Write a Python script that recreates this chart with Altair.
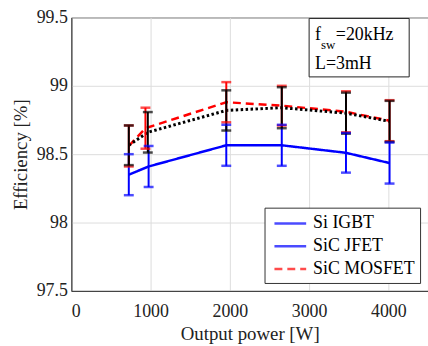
import altair as alt
import pandas as pd

power_si = [725, 975, 1955, 2655, 3465, 4015]
eff_si = [98.35, 98.41, 98.565, 98.565, 98.51, 98.435]
err_si = [0.15, 0.15, 0.15, 0.15, 0.145, 0.15]
power_mos = [725, 935, 1955, 2655, 3465, 4015]
eff_mos = [98.56, 98.69, 98.88, 98.855, 98.81, 98.745]
err_mos = [0.15, 0.15, 0.147, 0.145, 0.15, 0.15]
power_jfet = [725, 965, 1955, 2655, 3465, 4015]
eff_jfet = [98.565, 98.66, 98.82, 98.84, 98.80, 98.74]
err_jfet = [0.145, 0.148, 0.147, 0.15, 0.15, 0.15]
series_colors = {"Si IGBT": "#0000ff", "SiC MOSFET": "#ff0000", "SiC JFET": "#000000"}

rows = []
for name, px, ey, er in [("Si IGBT", power_si, eff_si, err_si),
                         ("SiC MOSFET", power_mos, eff_mos, err_mos),
                         ("SiC JFET", power_jfet, eff_jfet, err_jfet)]:
    for p, e, r in zip(px, ey, er):
        rows.append({"series": name, "power": p, "eff": e, "lo": e - r, "hi": e + r,
                     "ecolor": series_colors[name]})
df = pd.DataFrame(rows)

FONT = "Liberation Serif"
dom = ["Si IGBT", "SiC JFET", "SiC MOSFET"]
color_scale = alt.Scale(domain=dom, range=["#0000ff", "#0000ff", "#ff0000"])
dash_scale = alt.Scale(domain=dom, range=[[1, 0], [1, 0], [8, 5]])

xs = alt.X("power:Q", scale=alt.Scale(domain=[0, 4500], nice=False),
           axis=alt.Axis(values=[0, 1000, 2000, 3000, 4000], format="d",
                         title="Output power [W]", grid=True))
ys = alt.Y("eff:Q", scale=alt.Scale(domain=[97.5, 99.5], nice=False, zero=False),
           axis=alt.Axis(values=[97.5, 98, 98.5, 99, 99.5], format="~f",
                         title="Efficiency [%]", grid=True))

legend = alt.Legend(
    title=None, orient="none", legendX=195, legendY=192,
    symbolType="M-0.63,0H2.74", symbolSize=361, symbolStrokeWidth=2.5,
    labelFont=FONT, labelFontSize=18, labelColor="black", labelOffset=22,
    labelLimit=300, rowPadding=3, padding=5,
    strokeColor="#333333", fillColor="white",
)

base = alt.Chart(df)
lines_main = base.transform_filter(alt.datum.series != "SiC JFET").mark_line(strokeWidth=2.5).encode(
    x=xs, y=ys,
    color=alt.Color("series:N", scale=color_scale, legend=legend),
    strokeDash=alt.StrokeDash("series:N", scale=dash_scale, legend=legend),
)
line_jfet = base.transform_filter(alt.datum.series == "SiC JFET").mark_line(
    strokeWidth=3, color="#000000", strokeDash=[2.5, 2.5]).encode(x="power:Q", y="eff:Q")

rules = base.mark_rule(strokeWidth=2).encode(
    x="power:Q", y="lo:Q", y2="hi:Q",
    color=alt.Color("ecolor:N", scale=None),
)
cap_lo = base.mark_tick(orient="horizontal", size=10, thickness=2.5).encode(
    x="power:Q", y="lo:Q", color=alt.Color("ecolor:N", scale=None),
)
cap_hi = base.mark_tick(orient="horizontal", size=10, thickness=2.5).encode(
    x="power:Q", y="hi:Q", color=alt.Color("ecolor:N", scale=None),
)

one = pd.DataFrame({"a": [0]})
box = alt.Chart(one).mark_rect(fill="white", stroke="#222222", strokeWidth=1).encode(
    x=alt.value(240), x2=alt.value(341), y=alt.value(1), y2=alt.value(60))
t_f = alt.Chart(one).mark_text(font=FONT, fontSize=18, align="left", baseline="alphabetic",
                               color="black").encode(x=alt.value(246), y=alt.value(23), text=alt.value("f"))
t_sw = alt.Chart(one).mark_text(font=FONT, fontSize=13, align="left", baseline="alphabetic",
                                color="black").encode(x=alt.value(252), y=alt.value(32), text=alt.value("sw"))
t_fv = alt.Chart(one).mark_text(font=FONT, fontSize=18, align="left", baseline="alphabetic",
                                color="black").encode(x=alt.value(267), y=alt.value(23), text=alt.value("=20kHz"))
t_l = alt.Chart(one).mark_text(font=FONT, fontSize=18, align="left", baseline="alphabetic",
                               color="black").encode(x=alt.value(246), y=alt.value(52), text=alt.value("L=3mH"))

chart = alt.layer(lines_main, line_jfet, rules, cap_lo, cap_hi, box, t_f, t_sw, t_fv, t_l).properties(
    width=360, height=276,
    autosize=alt.AutoSizeParams(type="none"),
    padding={"left": 72, "top": 16, "right": 0, "bottom": 54},
    background="white",
).configure_view(stroke="#333333", strokeWidth=1).configure_axis(
    labelFont=FONT, labelFontSize=18, labelColor="#222222",
    titleFont=FONT, titleFontSize=19, titleFontWeight="normal", titleColor="#222222",
    domainColor="#333333", gridColor="#dddddd", ticks=False,
).configure_axisX(labelPadding=12, titlePadding=4).configure_axisY(labelPadding=4, titlePadding=6)

chart.save("out.html", embed_options={"renderer": "svg", "actions": False})
